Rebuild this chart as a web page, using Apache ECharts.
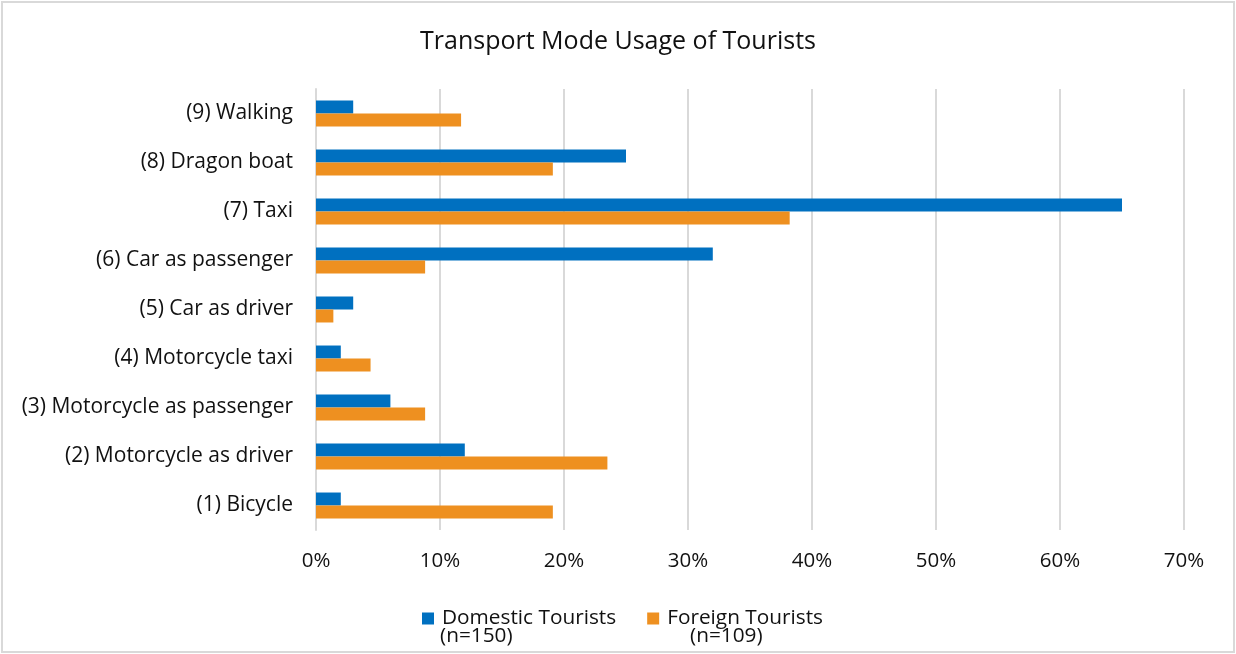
<!DOCTYPE html>
<html>
<head>
<meta charset="utf-8">
<script src="https://cdn.jsdelivr.net/npm/echarts@6/dist/echarts.min.js"></script>
<style>
html,body{margin:0;padding:0;background:#fff;}
#wrap{position:absolute;left:1px;top:1px;width:1234px;height:652px;border:2px solid #d9d9d9;box-sizing:border-box;}
#chart{position:absolute;left:0;top:0;width:1236px;height:654px;}
</style>
</head>
<body>
<div id="wrap"></div>
<div id="chart"></div>
<script>
const categories = ['(1) Bicycle','(2) Motorcycle as driver','(3) Motorcycle as passenger','(4) Motorcycle taxi','(5) Car as driver','(6) Car as passenger','(7) Taxi','(8) Dragon boat','(9) Walking'];
const domestic = [2, 12, 6, 2, 3, 32, 65, 25, 3];
const foreign = [19.1, 23.5, 8.8, 4.4, 1.4, 8.8, 38.2, 19.1, 11.7];
const xTicks = [0, 10, 20, 30, 40, 50, 60, 70];
const seriesNames = ['Domestic Tourists', 'Foreign Tourists'];
const sampleSizes = ['(n=150)', '(n=109)'];

const font = 'Open Sans, Noto Sans, sans-serif';
const chart = echarts.init(document.getElementById('chart'), null, {renderer:'canvas'});
chart.setOption({
  animation:false,
  title:{text:'Transport Mode Usage of Tourists', left:'center', top:24,
    textStyle:{fontFamily:font, fontSize:25, fontWeight:'normal', color:'#111'}},
  grid:{left:316, right:52, top:89, bottom:124, containLabel:false},
  legend:{top:603, left:417, itemWidth:12, itemHeight:12, itemGap:31, icon:'rect',
    data:seriesNames,
    textStyle:{fontFamily:font, fontSize:20.8, color:'#111', padding:[0,0,0,3]}},
  graphic:[
    {type:'text', left:440, top:626, style:{text:sampleSizes[0], fontFamily:font, fontSize:20.8, fill:'#111'}},
    {type:'text', left:690, top:626, style:{text:sampleSizes[1], fontFamily:font, fontSize:20.8, fill:'#111'}}
  ],
  xAxis:{type:'value', min:0, max:70, interval:10,
    axisLine:{show:false}, axisTick:{show:false},
    splitLine:{lineStyle:{color:'#d9d9d9', width:2}},
    axisLabel:{fontFamily:font, fontSize:20.5, color:'#111', margin:21,
      formatter:function(v){return xTicks.indexOf(v)>=0 ? v+'%' : '';}}},
  yAxis:{type:'category', data:categories,
    axisLine:{lineStyle:{color:'#d9d9d9', width:2}}, axisTick:{show:false},
    axisLabel:{fontFamily:font, fontSize:21, color:'#111', margin:23}},
  series:[
    {name:seriesNames[0], type:'bar', data:domestic, barGap:'0%', barCategoryGap:'47%',
      itemStyle:{color:'#0070C0'}},
    {name:seriesNames[1], type:'bar', data:foreign, barGap:'0%', barCategoryGap:'47%',
      itemStyle:{color:'#EE9020'}}
  ]
});
</script>
</body>
</html>
